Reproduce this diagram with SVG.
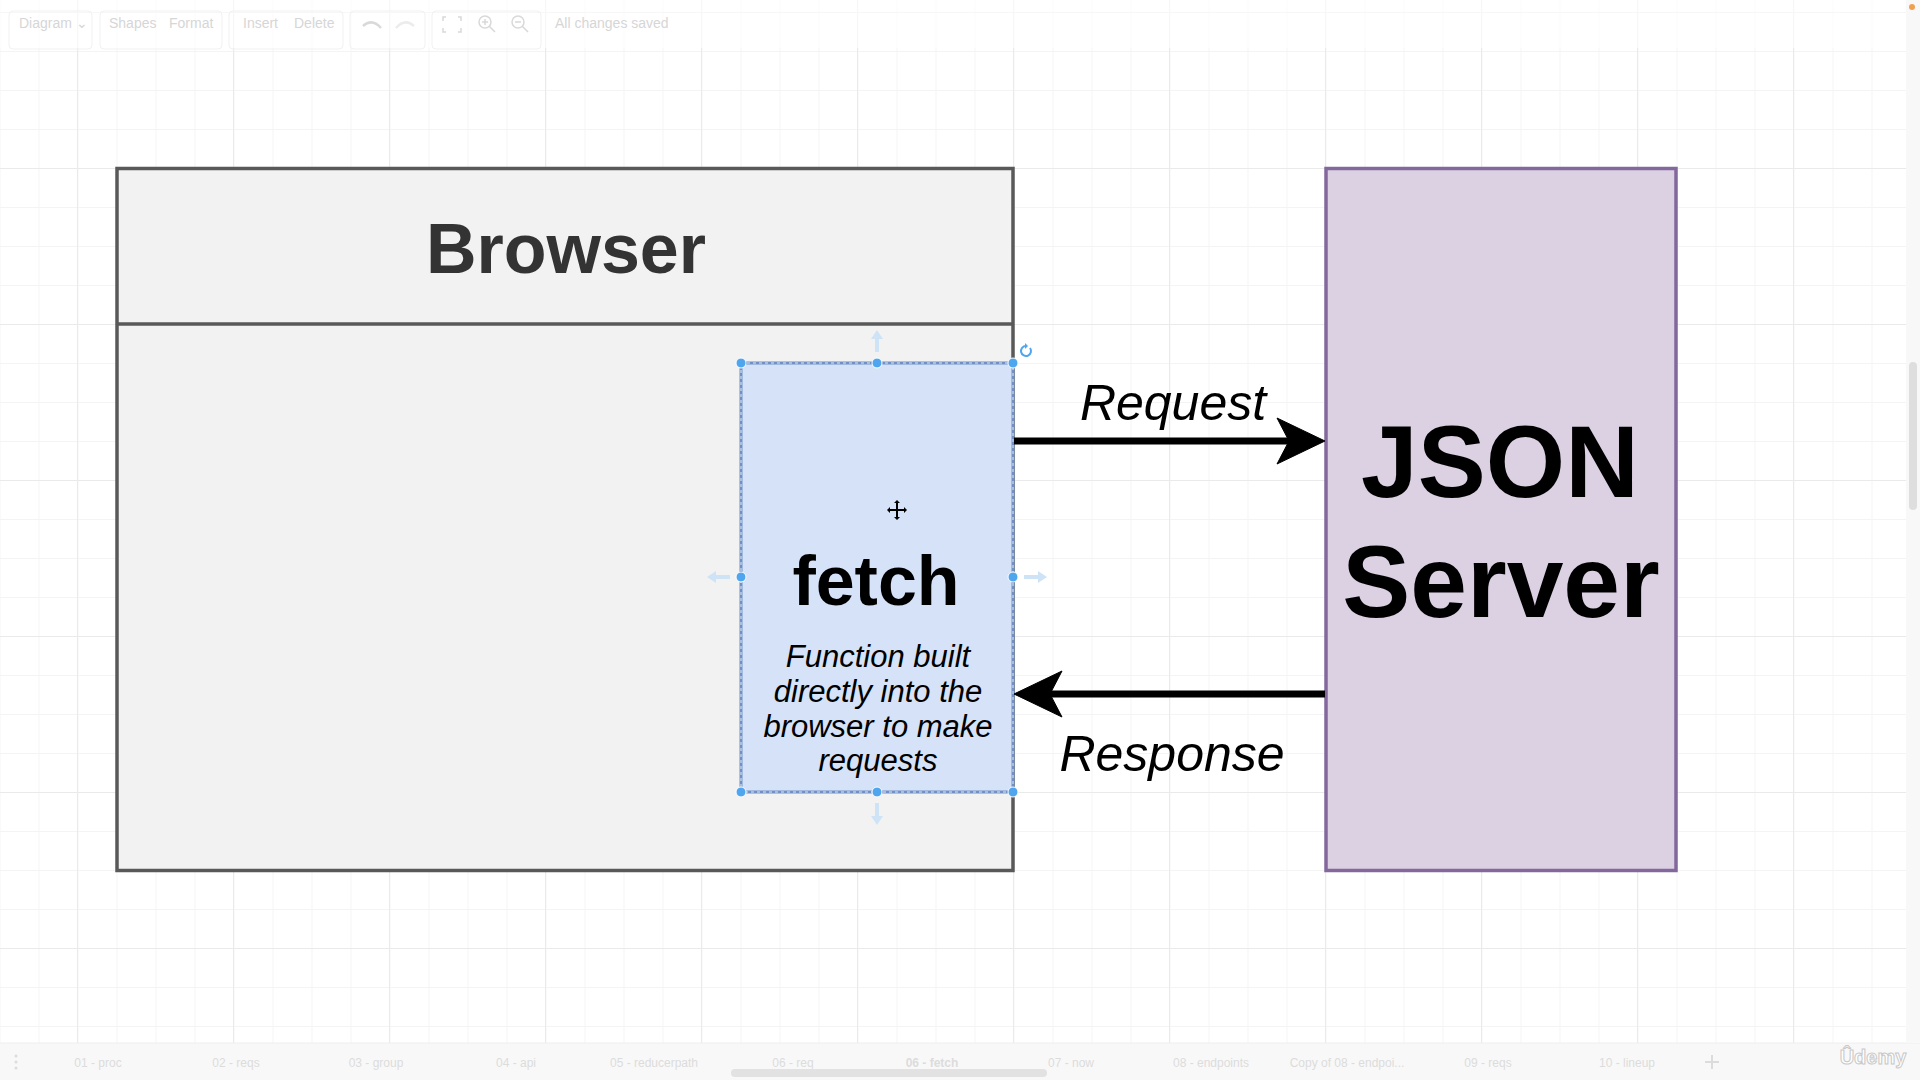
<svg xmlns="http://www.w3.org/2000/svg" width="1920" height="1080" viewBox="0 0 1920 1080">
<defs>
<pattern id="gMinor" x="-0.5" y="12" width="39" height="39" patternUnits="userSpaceOnUse">
<path d="M0.5 0V39M0 0.5H39" stroke="#f4f4f4" stroke-width="1" fill="none"/>
</pattern>
<pattern id="gMajor" x="77" y="12" width="156" height="156" patternUnits="userSpaceOnUse">
<path d="M0.5 0V156M0 0.5H156" stroke="#eaeaea" stroke-width="1" fill="none"/>
</pattern>
</defs>
<style>
.ui{font-family:"Liberation Sans",Arial,sans-serif;font-size:14px;fill:#d6d6d6}
.tab{font-family:"Liberation Sans",Arial,sans-serif;font-size:12px;fill:#dcdcdc;text-anchor:middle}
.bold{font-family:"Liberation Sans",Arial,Helvetica,sans-serif;font-weight:bold;text-anchor:middle}
.ital{font-family:"Liberation Sans",Arial,Helvetica,sans-serif;font-style:italic;text-anchor:middle;fill:#000}
.handle{fill:#4fa5ee;stroke:#ffffff;stroke-width:1}
.hint{fill:#cfe3f6}
.tb{fill:none;stroke:#f1f1f1;stroke-width:1}
</style>
<rect width="1920" height="1080" fill="#ffffff"/>
<rect x="0" y="0" width="1906" height="1043" fill="url(#gMinor)"/>
<rect x="0" y="0" width="1906" height="1043" fill="url(#gMajor)"/>

<g id="toolbar">
<rect x="0" y="0" width="1906" height="48" fill="#ffffff" opacity="0.6"/>
<rect class="tb" x="9" y="11" width="83" height="38" rx="4"/>
<rect class="tb" x="100" y="11" width="122" height="38" rx="4"/>
<rect class="tb" x="229" y="11" width="114" height="38" rx="4"/>
<rect class="tb" x="350" y="11" width="75" height="38" rx="4"/>
<rect class="tb" x="432" y="11" width="109" height="38" rx="4"/>
<text class="ui" x="19" y="28">Diagram ⌄</text>
<text class="ui" x="109" y="28">Shapes</text>
<text class="ui" x="169" y="28">Format</text>
<text class="ui" x="243" y="28">Insert</text>
<text class="ui" x="294" y="28">Delete</text>
<path d="M363 26 q9 -8 18 2" fill="none" stroke="#d9d9d9" stroke-width="2.5"/>
<path d="M396 28 q9 -10 18 -2" fill="none" stroke="#ececec" stroke-width="2.5"/>
<path d="M446 17h-3v4M458 17h3v4M446 32h-3v-4M458 32h3v-4" fill="none" stroke="#d9d9d9" stroke-width="1.5"/>
<circle cx="485" cy="22" r="6" fill="none" stroke="#d9d9d9" stroke-width="1.5"/>
<path d="M489 26l6 6M482 22h6M485 19v6" stroke="#d9d9d9" stroke-width="1.5"/>
<circle cx="518" cy="22" r="6" fill="none" stroke="#d9d9d9" stroke-width="1.5"/>
<path d="M522 26l6 6M515 22h6" stroke="#d9d9d9" stroke-width="1.5"/>
<text class="ui" x="555" y="28">All changes saved</text>
</g>

<g id="browser">
<rect x="117" y="168.5" width="896" height="702" fill="#f2f2f2" stroke="#595959" stroke-width="3.5"/>
<line x1="117" y1="324" x2="1013" y2="324" stroke="#595959" stroke-width="3.5"/>
<text class="bold" x="566" y="273" font-size="70" fill="#333333">Browser</text>
</g>

<g id="json-server">
<rect x="1326" y="168.5" width="350" height="702" fill="#dcd0e3" stroke="#82689d" stroke-width="3.5"/>
<text class="bold" x="1500" y="497" font-size="102" fill="#000000">JSON</text>
<text class="bold" x="1501" y="617" font-size="102" fill="#000000">Server</text>
</g>

<g id="fetch">
<rect x="741" y="363" width="272" height="429" fill="#d5e2f7" stroke="#7191c6" stroke-width="3"/>
<rect x="741" y="363" width="272" height="429" fill="none" stroke="#ffffff" stroke-width="1" stroke-dasharray="3 3" opacity="0.8"/>
<text class="bold" x="876" y="605" font-size="70" fill="#000000">fetch</text>
<text class="ital" font-size="31"><tspan x="878" y="667">Function built</tspan><tspan x="878" y="702">directly into the</tspan><tspan x="878" y="737">browser to make</tspan><tspan x="878" y="771">requests</tspan></text>
</g>

<g id="connectors">
<line x1="1014" y1="441" x2="1292" y2="441" stroke="#000" stroke-width="7"/>
<path d="M1325 441L1277 418L1289 441L1277 464Z" fill="#000" stroke="#000" stroke-width="1"/>
<line x1="1325" y1="694" x2="1047" y2="694" stroke="#000" stroke-width="7"/>
<path d="M1014 694L1062 671L1050 694L1062 717Z" fill="#000" stroke="#000" stroke-width="1"/>
<text class="ital" x="1173" y="420" font-size="50">Request</text>
<text class="ital" x="1172" y="771" font-size="50">Response</text>
</g>

<g id="selection">
<path class="hint" d="M877 330l-6 9h4v13h4v-13h4z"/>
<path class="hint" d="M877 825l-6 -9h4v-13h4v13h4z"/>
<path class="hint" d="M707 577l9 -6v4h14v4h-14v4z"/>
<path class="hint" d="M1047 577l-9 -6v4h-14v4h14v4z"/>
<circle class="handle" cx="741" cy="363" r="5"/>
<circle class="handle" cx="877" cy="363" r="5"/>
<circle class="handle" cx="1013" cy="363" r="5"/>
<circle class="handle" cx="741" cy="577" r="5"/>
<circle class="handle" cx="1013" cy="577" r="5"/>
<circle class="handle" cx="741" cy="792" r="5"/>
<circle class="handle" cx="877" cy="792" r="5"/>
<circle class="handle" cx="1013" cy="792" r="5"/>
<path d="M1030 348a5 5 0 1 1 -4 -2" fill="none" stroke="#4fa5ee" stroke-width="2"/>
<path d="M1025 343l3 3l-3 3z" fill="#4fa5ee"/>
<path d="M897 502v16M889 510h16" stroke="#000" stroke-width="2"/>
<path d="M897 500l-3 3h6zM897 520l-3 -3h6zM887 510l3 -3v6zM907 510l-3 -3v6z" fill="#000"/>
</g>

<g id="tabbar">
<rect x="0" y="1043" width="1920" height="37" fill="#f8f8f8"/>
<line x1="0" y1="1043" x2="1920" y2="1043" stroke="#eeeeee"/>
<circle cx="16" cy="1056" r="1.5" fill="#dcdcdc"/><circle cx="16" cy="1062" r="1.5" fill="#dcdcdc"/><circle cx="16" cy="1068" r="1.5" fill="#dcdcdc"/>
<text class="tab" x="98" y="1067">01 - proc</text>
<text class="tab" x="236" y="1067">02 - reqs</text>
<text class="tab" x="376" y="1067">03 - group</text>
<text class="tab" x="516" y="1067">04 - api</text>
<text class="tab" x="654" y="1067">05 - reducerpath</text>
<text class="tab" x="793" y="1067">06 - req</text>
<text class="tab" x="932" y="1067" font-weight="bold" fill="#c8c8c8">06 - fetch</text>
<text class="tab" x="1071" y="1067">07 - now</text>
<text class="tab" x="1211" y="1067">08 - endpoints</text>
<text class="tab" x="1347" y="1067">Copy of 08 - endpoi...</text>
<text class="tab" x="1488" y="1067">09 - reqs</text>
<text class="tab" x="1627" y="1067">10 - lineup</text>
<path d="M1712 1055v14M1705 1062h14" stroke="#dcdcdc" stroke-width="2"/>
<rect x="731" y="1069" width="316" height="8" rx="4" fill="#e2e2e2"/>
<text x="1873" y="1064" font-family="Liberation Sans,Arial,sans-serif" font-size="20" font-weight="bold" text-anchor="middle" fill="#ffffff" stroke="#c8c8c8" stroke-width="1">Ûdemy</text>
</g>

<g id="scrollbar">
<rect x="1906" y="0" width="14" height="1043" fill="#f8f8f8"/>
<rect x="1909" y="362" width="8" height="148" rx="4" fill="#dedede"/>
<circle cx="1912" cy="7" r="3" fill="#f0a050"/>
</g>
</svg>
